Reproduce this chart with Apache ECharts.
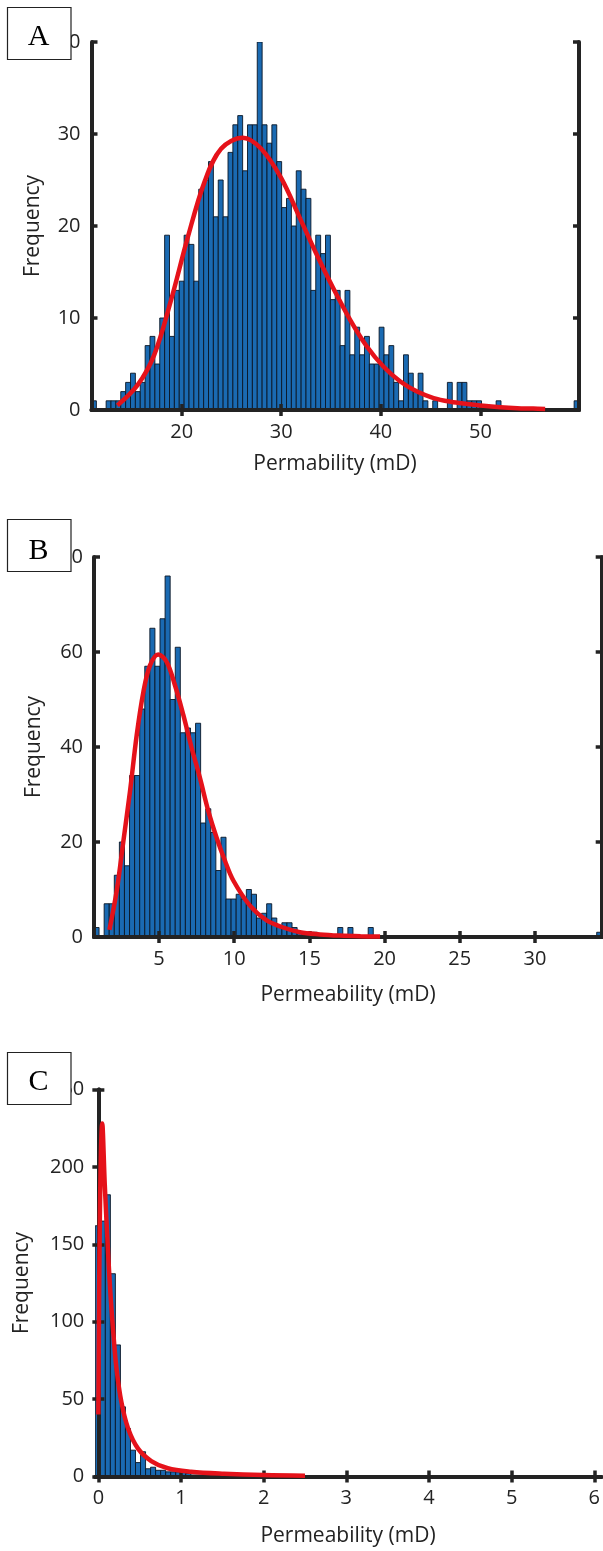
<!DOCTYPE html>
<html><head><meta charset="utf-8">
<script src="https://cdn.jsdelivr.net/npm/echarts@6/dist/echarts.min.js"></script>
<style>html,body{margin:0;padding:0;background:#fff}#c{width:603px;height:1551px}</style>
</head><body><div id="c"></div>
<script>
// ---------- Panel A ----------
const binStartA = 10.95, binWidthA = 0.4895;
const countsA = [1,0,0,1,1,1,2,3,4,2, 3,7,8,5,10,19,8,13,14,19, 18,14,24,25,27,21,25,21,28,31, 32,26,31,31,40,31,29,31,27,22,
  23,20,26,24,23,13,19,17,19,12, 13,7,13,6,9,6,8,5,5,9, 6,7,3,1,6,4,2,4,1,0, 1,0,0,3,0,3,3,1,1,1,
  0,0,0,1,0,0,0,0,0,0, 0,0,0,0,0,0,0,0,0,1];
const curveAx = [13.55,15.57,17.25,18.9,20.6,22.3,23.96,26.14,27.99,30.0,31.9,33.56,35.24,36.92,38.6,40.28,41.96,43.64,45.3,47.0,48.7,50.3,52.0,53.7,55.3,56.5];
const curveAy = [0.5,2.7,6.0,11.8,18.7,24.8,28.4,29.6,28.4,25.2,20.8,16.9,13.2,9.8,6.9,4.7,3.1,2.0,1.3,0.9,0.65,0.45,0.3,0.2,0.15,0.1];
const xTicksA = [20,30,40,50];
// ---------- Panel B ----------
const binStartB = 0.675, binWidthB = 0.3377;
const countsB = [2,0,7,7,13,20,15,34,34,48, 57,65,57,67,76,50,61,43,44,43, 45,24,27,22,14,21,8,8,9,8, 10,9,4,5,7,4,2,3,3,2,
  1,1,0,1,0,0,0,0,2,0, 2,0,0,0,2,0,0,0,0,0, 0,0,0,0,0,0,0,0,0,0, 0,0,0,0,0,0,0,0,0,0,
  0,0,0,0,0,0,0,0,0,0, 0,0,0,0,0,0,0,0,0,1];
const curveBx = [1.70,2.19,2.63,3.07,3.52,3.96,4.40,4.95,5.51,6.06,6.61,7.17,7.72,8.28,8.83,9.39,9.94,11.05,12.16,13.26,14.37,15.7,17.0,18.4,19.7];
const curveBy = [1.5,9.8,20.2,30.7,42.6,51.6,57.2,59.5,57.9,53,46.8,39.8,33.5,26.5,20.9,16,11.9,6.6,3.5,2.0,1.0,0.55,0.3,0.15,0.08];
const xTicksB = [5,10,15,20,25,30];
// ---------- Panel C ----------
const binStartC = -0.037, binWidthC = 0.0608;
const countsC = [162,165,182,131,85,45,31,17,9,16, 5,6,4,4,3,3,3,3,2,1, 1,1,1,2,0,0,0,0,0,0,
  0,0,0,0,0,0,0,0,0,0, 0,0,0,0,0,0,0,0,0,0, 0,0,0,0,0,0,0,0,0,0, 0,0,0,0,0,0,0,0,0,0,
  0,0,0,0,0,0,0,0,0,0, 0,0,0,0,0,0,0,0,0,0];
const curveCx = [0.0,0.018,0.047,0.078,0.107,0.139,0.179,0.219,0.279,0.36,0.48,0.64,0.84,1.12,1.52,2.0,2.5];
const curveCy = [40,167,228,188,156,124,94,70,48,31,18,10,5.3,3.1,1.8,0.9,0.5];
const xTicksC = [0,1,2,3,4,5,6];

const AX = '#232323';
const FONT = 'Open Sans';

function bins(start, w, counts){ return counts.map((c,i)=>[start+i*w, start+(i+1)*w, c]); }
function pairs(xs, ys){ return xs.map((x,i)=>[x, ys[i]]); }

const panels = [
  {grid:{left:91.5, top:42, width:487.5, height:368}, xmin:10.95, xmax:59.9, ymax:40, yint:10, ticks:xTicksA,
   bins:bins(binStartA,binWidthA,countsA), curve:pairs(curveAx,curveAy)},
  {grid:{left:94, top:557, width:507.7, height:380}, xmin:0.675, xmax:34.44, ymax:80, yint:20, ticks:xTicksB,
   bins:bins(binStartB,binWidthB,countsB), curve:pairs(curveBx,curveBy)},
  {grid:{left:95.3, top:1089.5, width:510, height:387}, xmin:-0.037, xmax:6.085, ymax:250, yint:50, ticks:xTicksC,
   bins:bins(binStartC,binWidthC,countsC), curve:pairs(curveCx,curveCy)}
];

const grid=[], xAxis=[], yAxis=[], series=[];
panels.forEach((p,i)=>{
  grid.push(p.grid);
  const line = {show:true, lineStyle:{color:AX, width:4}};
  const tickStyle = {show:true, inside:true, length:6, lineStyle:{color:AX, width:3.5}};
  xAxis.push({type:'value', gridIndex:i, position:'bottom', min:p.xmin, max:p.xmax, z:3,
    axisLine:line, axisTick:Object.assign({customValues:p.ticks}, tickStyle), splitLine:{show:false},
    axisLabel:{customValues:p.ticks, margin:12, color:AX, fontFamily:FONT, fontSize:20}});
  xAxis.push({type:'value', gridIndex:i, position:'top', min:p.xmin, max:p.xmax, z:3,
    axisLine:line, axisTick:Object.assign({customValues:p.ticks}, tickStyle), splitLine:{show:false}, axisLabel:{show:false}});
  yAxis.push({type:'value', gridIndex:i, position:'left', min:0, max:p.ymax, interval:p.yint, z:3,
    axisLine:line, axisTick:tickStyle, splitLine:{show:false},
    axisLabel:{margin:11, color:AX, fontFamily:FONT, fontSize:20}});
  yAxis.push({type:'value', gridIndex:i, position:'right', min:0, max:p.ymax, interval:p.yint, z:3,
    axisLine:line, axisTick:tickStyle, splitLine:{show:false}, axisLabel:{show:false}});
  series.push({type:'custom', xAxisIndex:2*i, yAxisIndex:2*i, z:2, clip:true, data:p.bins,
    renderItem:function(params, api){
      const h = api.value(2); if(!h) return null;
      const a = api.coord([api.value(0), h]); const b = api.coord([api.value(1), 0]);
      return {type:'rect', shape:{x:a[0], y:a[1], width:b[0]-a[0], height:b[1]-a[1]},
        style:{fill:'#1a6ab2', stroke:'#0a1626', lineWidth:0.9}};
    }});
  series.push({type:'line', xAxisIndex:2*i, yAxisIndex:2*i, z:5, data:p.curve, smooth:0.35, symbol:'none',
    lineStyle:{color:'#e5121a', width:4.5}, silent:true});
});

const boxes = [{y:7, l:'A', cy:37},{y:519, l:'B', cy:551},{y:1052, l:'C', cy:1082}];
const graphic = [];
boxes.forEach(b=>{
  graphic.push({type:'rect', z:100, shape:{x:7.5, y:b.y+0.5, width:63.5, height:52}, style:{fill:'#fff', stroke:'#222', lineWidth:1.2}});
  graphic.push({type:'text', z:101, x:38.5, y:b.cy, style:{text:b.l, font:'30px "Liberation Serif"', fill:'#000', align:'center', verticalAlign:'middle'}});
});
const titles = [
  {t:'Permability (mD)', x:335, y:464},
  {t:'Permeability (mD)', x:348, y:995},
  {t:'Permeability (mD)', x:348, y:1536}
];
titles.forEach(t=>graphic.push({type:'text', z:50, x:t.x, y:t.y, style:{text:t.t, font:'21px "Open Sans"', fill:AX, align:'center', verticalAlign:'middle'}}));
const ytitles = [{x:33.5, y:226},{x:34.5, y:747},{x:22, y:1283}];
ytitles.forEach(t=>graphic.push({type:'text', z:50, x:t.x, y:t.y, rotation:Math.PI/2, style:{text:'Frequency', font:'21px "Open Sans"', fill:AX, align:'center', verticalAlign:'middle'}}));

const chart = echarts.init(document.getElementById('c'), null, {renderer:'canvas'});
chart.setOption({animation:false, backgroundColor:'#fff', grid, xAxis, yAxis, series, graphic});
</script>
</body></html>
